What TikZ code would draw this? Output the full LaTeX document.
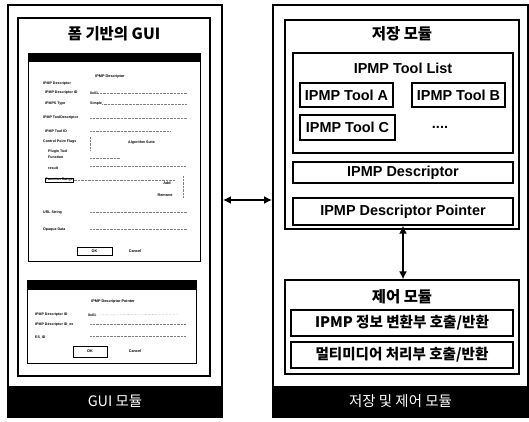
\documentclass[tikz,border=0pt]{standalone}
\usepackage{fontspec}
\setmainfont{Liberation Sans}
\newfontfamily\kr{Noto Sans CJK KR}
\usetikzlibrary{fit,arrows.meta}
\begin{document}
\begin{tikzpicture}[x=1bp,y=-1bp,
  outerbox/.style={draw, line width=1.8bp, inner sep=0pt},
  inbox/.style={draw, line width=1.2bp, inner sep=0pt},
  thinbox/.style={draw, line width=0.8bp, inner sep=0pt},
  blackbar/.style={fill=black, draw=black, inner sep=0pt},
  lbl/.style={font=\bfseries\fontsize{14.5}{16}\selectfont, inner sep=0pt},
  krlbl/.style={font=\kr\bfseries\fontsize{14.6}{16}\selectfont, inner sep=0pt},
  krtitle/.style={font=\kr\bfseries\fontsize{15.5}{17}\selectfont, inner sep=0pt},
  barlbl/.style={font=\kr\fontsize{14.5}{16}\selectfont, text=white, inner sep=0pt},
  tiny/.style={font=\bfseries\fontsize{3.6}{4}\selectfont, anchor=west, inner sep=0pt},
  tinyc/.style={font=\bfseries\fontsize{3.8}{4}\selectfont, inner sep=0pt},
  field/.style={densely dotted, gray, line width=0.4bp},
  dbl/.style={line width=2.4bp, {Latex[length=8bp,width=8bp]}-{Latex[length=8bp,width=8bp]}}
]
\useasboundingbox (0,0) rectangle (529,421);
% ---------------- left panel ----------------
\node[outerbox, fit={(8,5)(222,417)}] (guiouter) {};
\node[blackbar, fit={(8,386)(222,417)}] (guibar) {};
\node[barlbl] (guibarlbl) at (guibar.center) {GUI 모듈};
\node[inbox, fit={(18,18)(210,376)}] (guiinner) {};
\node[krtitle] (guititle) at (114,34) {폼 기반의 GUI};
% form 1
\node[thinbox, fit={(28,53)(200,261)}] (form1) {};
\node[blackbar, fit={(28,53)(200,61)}] (form1bar) {};
\node[tinyc] (f1h) at (110,77) {IPMP Descriptor};
\node[tiny] (f1a) at (43,84) {IPMP Descriptor};
\node[tiny] (f1b) at (45,93) {IPMP Descriptor ID};
\node[tiny] (f1bv) at (90,93) {0x01};
\draw[field] (f1bv.east) -- (187,93);
\node[tiny] (f1c) at (45,104) {IPMPS Type};
\node[tiny] (f1cv) at (90,104) {Simple};
\draw[field] (f1cv.east) -- (187,104);
\node[tiny] (f1d) at (43,118) {IPMP ToolDescriptor};
\draw[field] (90,118) -- (187,118);
\node[tiny] (f1e) at (45,131) {IPMP Tool ID};
\draw[field] (90,131) -- (170,131);
\node[tiny] (f1f) at (43,142) {Control Point Flags};
\node[tiny] (f1fr) at (128,143) {Algorithm Suite};
\draw[field] (90,137) -- (90,150);
\node[tiny] (f1g) at (48,152) {Plugin Tool};
\node[tiny] (f1h2) at (48,157) {Function};
\draw[field] (90,158) -- (120,158);
\node[tiny] (f1i) at (48,168) {result};
\draw[field] (90,166) -- (185,166);
\node[tiny, draw, line width=0.3bp, inner sep=0.6pt] (f1j) at (45,180) {Function Range};
\draw[field] (f1j.east) -- (175,180);
\node[tinyc] (f1k) at (167,183) {Add};
\node[tinyc] (f1l) at (165,195) {Remove};
\draw[field] (183,176) -- (183,198);
\node[tiny] (f1m) at (43,213) {URL String};
\draw[field] (90,212) -- (187,212);
\node[tiny] (f1n) at (43,230) {Opaque Data};
\draw[field] (90,229) -- (187,229);
\node[draw, line width=0.8bp, inner sep=0pt, fit={(77,247)(112,255)}] (f1ok) {};
\node[tinyc] (f1okt) at (f1ok.center) {OK};
\node[tinyc] (f1cancel) at (135,251) {Cancel};
% form 2
\node[thinbox, fit={(27,280)(196,363)}] (form2) {};
\node[blackbar, fit={(27,280)(196,289)}] (form2bar) {};
\node[tinyc] (f2h) at (113,302) {IPMP Descriptor Pointer};
\node[tiny] (f2a) at (35,315) {IPMP Descriptor ID};
\node[tiny] (f2av) at (88,315) {0x01};
\draw[field] (f2av.east) -- (180,314);
\node[tiny] (f2b) at (35,325) {IPMP Descriptor ID\_ex};
\draw[field] (90,324) -- (185,324);
\node[tiny] (f2c) at (35,337) {ES\_ID};
\draw[field] (90,336) -- (185,336);
\node[draw, line width=0.8bp, inner sep=0pt, fit={(73,346)(107,357)}] (f2ok) {};
\node[tinyc] (f2okt) at (f2ok.center) {OK};
\node[tinyc] (f2cancel) at (135,351) {Cancel};
% ---------------- right panel ----------------
\node[outerbox, fit={(273,5)(528,417)}] (rout) {};
\node[blackbar, fit={(273,386)(528,417)}] (rbar) {};
\node[barlbl] (rbarlbl) at (rbar.center) {저장 및 제어 모듈};
% storage module
\node[inbox, fit={(285,20)(519,229)}] (store) {};
\node[krtitle] (storetitle) at (402,34) {저장 모듈};
\node[inbox, fit={(293,53)(513,153)}] (toollist) {};
\node[lbl] (tltitle) at (403,68) {IPMP Tool List};
\node[inbox, fit={(300,83)(393,107)}] (toola) {};
\node[lbl] (toolat) at (toola.center) {IPMP Tool A};
\node[inbox, fit={(412,83)(505,107)}] (toolb) {};
\node[lbl] (toolbt) at (toolb.center) {IPMP Tool B};
\node[inbox, fit={(300,115)(395,140)}] (toolc) {};
\node[lbl] (toolct) at (toolc.center) {IPMP Tool C};
\node[lbl] (dots) at (440,127) {....};
\node[inbox, fit={(293,162)(513,183)}] (desc) {};
\node[lbl] (desct) at (desc.center) {IPMP Descriptor};
\node[inbox, fit={(293,198)(513,225)}] (ptr) {};
\node[lbl] (ptrt) at (ptr.center) {IPMP Descriptor Pointer};
% control module
\node[inbox, fit={(285,280)(519,374)}] (ctrl) {};
\node[krtitle] (ctrltitle) at (402,297) {제어 모듈};
\node[inbox, fit={(291,310)(513,336)}] (conv) {};
\node[krlbl] (convt) at (conv.center) {IPMP 정보 변환부 호출/반환};
\node[inbox, fit={(291,342)(513,368)}] (mm) {};
\node[krlbl] (mmt) at (mm.center) {멀티미디어 처리부 호출/반환};
% ---------------- arrows ----------------
\coordinate (harrow) at (0,200);
\draw[dbl] (guiouter.east |- harrow) -- (rout.west |- harrow);
\draw[dbl] (ptr.south) -- (ptr.south |- ctrl.north);
\end{tikzpicture}
\end{document}
